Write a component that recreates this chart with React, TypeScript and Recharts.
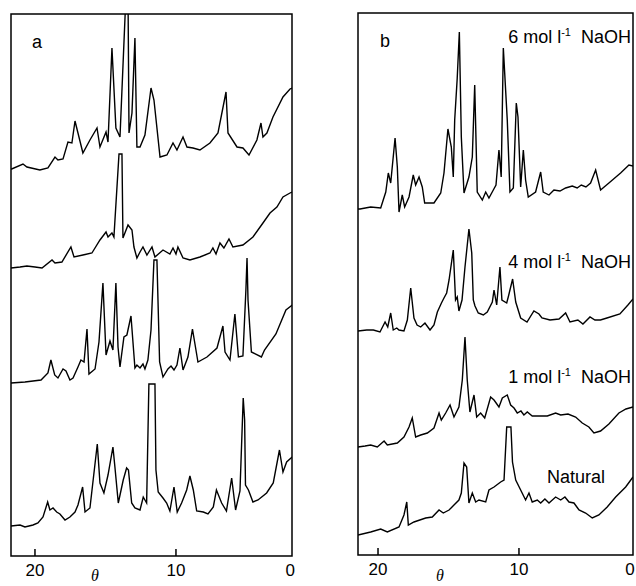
import { LineChart, Line, XAxis, YAxis, ReferenceArea } from 'recharts';

type Pt = [number, number];

// panel a, top to bottom (theta, intensity in arbitrary units incl. stacking offset)
const aTrace1: Pt[] = [
  [21.7, 387], [21.65, 387], [20.85, 392], [20.57, 389], [19.65, 386], [19.08, 388], [18.58, 399], [18.37, 396],
  [18.01, 397], [17.66, 414], [17.38, 413], [17.16, 435], [16.95, 423], [16.6, 403], [16.1, 416], [15.6, 428],
  [15.39, 409], [14.96, 424], [14.82, 414], [14.54, 508], [14.26, 428], [13.97, 419], [13.55, 560], [13.4, 560],
  [13.33, 423], [13.12, 443], [12.91, 518], [12.77, 409], [12.55, 409], [12.2, 421], [11.77, 468], [11.56, 456],
  [11.13, 399], [10.64, 401], [10.21, 413], [9.93, 406], [9.5, 419], [9.22, 409], [8.79, 408], [8.3, 406],
  [7.59, 413], [7.02, 423], [6.45, 464], [6.31, 423], [5.67, 409], [5.25, 408], [4.82, 401], [4.26, 416],
  [3.97, 433], [3.83, 419], [3.55, 423], [3.12, 439], [2.41, 459], [1.91, 467], [1.77, 468],
];
const aTrace2: Pt[] = [
  [21.7, 288], [21.06, 289], [20.57, 290], [20.0, 289], [19.5, 288], [18.79, 296], [18.58, 293], [18.09, 294],
  [17.45, 309], [17.23, 299], [16.6, 301], [15.96, 303], [15.39, 316], [14.96, 324], [14.82, 319], [14.54, 323],
  [14.4, 319], [14.04, 402], [13.83, 402], [13.76, 318], [13.4, 331], [13.12, 326], [12.98, 309], [12.77, 298],
  [12.55, 304], [12.34, 309], [12.06, 301], [11.7, 309], [11.49, 299], [10.92, 306], [10.43, 302], [10.21, 308],
  [10.0, 302], [9.86, 309], [9.5, 298], [9.01, 296], [8.3, 299], [7.59, 303], [7.38, 308], [7.16, 302],
  [6.88, 313], [6.6, 308], [6.24, 317], [5.96, 309], [5.25, 311], [4.54, 319], [3.83, 333], [3.33, 343],
  [2.84, 349], [2.41, 359], [1.91, 363], [1.77, 364],
];
const aTrace3: Pt[] = [
  [21.7, 173], [20.71, 174], [19.57, 176], [19.08, 183], [18.87, 196], [18.6, 181], [18.37, 178], [18.01, 187],
  [17.8, 185], [17.52, 176], [17.3, 178], [16.95, 189], [16.74, 196], [16.52, 194], [16.31, 227], [16.17, 182],
  [15.74, 187], [15.46, 214], [15.18, 273], [14.96, 201], [14.68, 215], [14.47, 206], [14.26, 273], [14.11, 209],
  [13.97, 189], [13.69, 219], [13.48, 221], [13.19, 240], [12.91, 188], [12.77, 191], [12.55, 188], [12.34, 192],
  [12.2, 187], [11.99, 196], [11.77, 226], [11.56, 296], [11.35, 296], [11.16, 194], [10.92, 179], [10.57, 187],
  [10.35, 190], [10.14, 186], [9.93, 191], [9.72, 208], [9.5, 186], [9.15, 199], [8.83, 227], [8.44, 194],
  [7.8, 199], [7.09, 208], [6.67, 230], [6.52, 204], [6.17, 196], [5.82, 242], [5.57, 199], [5.25, 200],
  [5.04, 266], [4.96, 298], [4.89, 256], [4.65, 204], [3.94, 199], [3.72, 206], [2.91, 222], [2.2, 246],
  [1.84, 250], [1.77, 251],
];
const aTrace4: Pt[] = [
  [21.7, 30], [21.06, 31], [20.71, 29], [20.14, 31], [19.79, 33], [19.43, 39], [19.1, 54], [18.94, 46],
  [18.72, 48], [18.46, 44], [18.23, 42], [17.87, 36], [17.52, 39], [17.16, 44], [16.95, 51], [16.62, 69],
  [16.45, 44], [16.1, 48], [15.58, 112], [15.39, 73], [15.11, 63], [14.82, 81], [14.47, 109], [14.33, 89],
  [14.09, 53], [13.74, 76], [13.5, 88], [13.37, 86], [13.14, 53], [12.91, 48], [12.55, 46], [12.32, 59],
  [12.08, 53], [11.92, 172], [11.49, 172], [11.42, 86], [11.26, 64], [10.92, 58], [10.66, 53], [10.43, 45],
  [10.14, 69], [9.91, 44], [9.6, 53], [9.24, 66], [9.01, 80], [8.77, 66], [8.53, 45], [8.06, 44],
  [7.73, 42], [7.35, 49], [7.13, 66], [6.76, 53], [6.42, 45], [6.05, 78], [5.77, 46], [5.46, 65],
  [5.23, 158], [5.13, 136], [5.07, 71], [4.86, 66], [4.54, 54], [4.18, 56], [3.57, 63], [3.1, 73],
  [2.66, 106], [2.41, 84], [2.15, 94], [1.84, 98], [1.77, 99],
];

// panel b, top to bottom
const b6mol: Pt[] = [
  [21.42, 346], [21.28, 346], [20.52, 348], [19.81, 347], [19.45, 363], [19.27, 382], [19.1, 372], [18.79, 417],
  [18.63, 388], [18.51, 343], [18.28, 360], [18.11, 348], [17.8, 358], [17.5, 380], [17.33, 370], [17.09, 378],
  [16.86, 368], [16.69, 352], [16.03, 352], [15.55, 362], [15.32, 382], [15.04, 426], [14.8, 408], [14.66, 378],
  [14.56, 435], [14.38, 477], [14.23, 523], [14.09, 418], [13.9, 362], [13.55, 378], [13.31, 398], [13.14, 470],
  [12.96, 363], [12.6, 355], [12.36, 363], [12.13, 357], [11.82, 365], [11.63, 370], [11.42, 405], [11.26, 378],
  [11.11, 507], [10.83, 435], [10.64, 363], [10.4, 367], [10.19, 452], [10.07, 438], [9.88, 368], [9.69, 405],
  [9.53, 375], [9.34, 358], [8.82, 363], [8.46, 383], [8.28, 363], [7.87, 360], [7.52, 365], [7.09, 364],
  [6.69, 367], [6.22, 369], [5.87, 367], [5.58, 370], [5.25, 368], [4.92, 372], [4.56, 385], [4.21, 365],
  [3.62, 372], [2.79, 382], [2.2, 390], [1.91, 389],
];
const b4mol: Pt[] = [
  [21.42, 224], [20.8, 225], [20.33, 225], [19.86, 223], [19.5, 233], [19.31, 228], [19.1, 242], [18.92, 225],
  [18.67, 227], [18.51, 225], [18.16, 224], [17.92, 235], [17.68, 267], [17.45, 237], [17.23, 230], [16.97, 228],
  [16.67, 232], [16.31, 225], [16.03, 230], [15.79, 243], [15.5, 252], [15.32, 257], [15.13, 262], [14.96, 275],
  [14.66, 305], [14.5, 255], [14.38, 258], [14.26, 244], [14.04, 255], [13.83, 288], [13.55, 326], [13.35, 302],
  [13.24, 255], [13.12, 249], [12.89, 242], [12.53, 240], [12.25, 243], [11.89, 253], [11.77, 265], [11.58, 250],
  [11.35, 288], [11.21, 255], [10.87, 252], [10.76, 258], [10.45, 276], [10.23, 253], [9.88, 237], [9.43, 233],
  [8.94, 244], [8.58, 241], [8.37, 237], [7.8, 235], [7.16, 236], [6.69, 242], [6.38, 233], [5.82, 235],
  [5.46, 231], [4.96, 238], [4.61, 235], [4.22, 235], [3.76, 237], [2.84, 241], [2.27, 250], [1.91, 256],
];
const b1mol: Pt[] = [
  [21.42, 108], [20.92, 109], [20.52, 110], [20.05, 108], [19.57, 114], [19.34, 110], [18.63, 112], [18.16, 118],
  [17.8, 128], [17.57, 137], [17.33, 118], [16.97, 120], [16.5, 122], [16.03, 127], [15.67, 142], [15.51, 135],
  [15.2, 142], [14.89, 150], [14.61, 138], [14.26, 148], [14.02, 175], [13.83, 218], [13.67, 175], [13.48, 143],
  [13.19, 160], [13.0, 138], [12.72, 142], [12.43, 137], [12.01, 158], [11.77, 155], [11.42, 148], [11.18, 157],
  [10.83, 160], [10.59, 150], [10.35, 147], [10.12, 142], [9.86, 144], [9.65, 140], [9.41, 143], [9.06, 139],
  [8.51, 139], [7.99, 139], [7.4, 142], [7.04, 140], [6.52, 141], [5.98, 138], [5.51, 132], [5.04, 128],
  [4.68, 122], [4.21, 124], [3.62, 131], [2.91, 142], [2.41, 146], [1.91, 148],
];
const bNatural: Pt[] = [
  [21.42, 20], [20.52, 23], [19.81, 26], [19.34, 23], [18.51, 28], [18.16, 40], [17.96, 53], [17.85, 30],
  [17.45, 33], [16.62, 37], [16.15, 38], [15.67, 45], [15.37, 42], [14.96, 45], [14.61, 50], [14.26, 55],
  [14.09, 62], [13.9, 92], [13.71, 88], [13.55, 52], [13.31, 62], [13.07, 53], [12.84, 55], [12.36, 53],
  [12.13, 65], [11.77, 68], [11.3, 73], [11.06, 75], [10.87, 128], [10.57, 128], [10.46, 93], [10.23, 75],
  [9.88, 65], [9.53, 55], [9.29, 62], [9.06, 53], [8.7, 55], [8.46, 52], [8.16, 56], [7.87, 52],
  [7.4, 58], [7.04, 55], [6.74, 58], [6.45, 53], [6.1, 52], [5.74, 45], [5.27, 42], [4.8, 37],
  [4.33, 40], [3.74, 48], [3.14, 58], [2.43, 68], [1.91, 78],
];

const xTicks = [20, 10, 1.9];
const tickText = (v: number) => (v < 5 ? '0' : String(v));

const FONT = '"Liberation Sans", Arial, Helvetica, sans-serif';
const SERIF = '"Liberation Serif", "Times New Roman", serif';

function InTick(props: any) {
  const { x, y, payload, maxX } = props;
  const edge = payload.value < 5;
  const tx = edge ? Math.min(x, maxX) : x;
  return (
    <g>
      {!edge && <line x1={x} x2={x} y1={y} y2={y - 7} stroke="#000" strokeWidth={1.5} />}
      <text x={tx} y={y + 20} textAnchor="middle" fontSize={17} fontFamily={FONT} fill="#000">
        {tickText(payload.value)}
      </text>
    </g>
  );
}

const toRows = (pts: Pt[]) => pts.map(([theta, y]) => ({ theta, y }));

function Panel({ traces, left, width, margin, xDomain, yMax, axisH, maxX }: any) {
  return (
    <div style={{ position: 'absolute', left, top: 0 }}>
      <LineChart width={width} height={586} margin={margin}>
        <XAxis
          dataKey="theta"
          type="number"
          domain={xDomain}
          reversed
          allowDataOverflow
          ticks={xTicks}
          tick={<InTick maxX={maxX} />}
          tickLine={false}
          axisLine={false}
          tickSize={0}
          tickMargin={0}
          height={axisH}
          interval={0}
        />
        <YAxis type="number" domain={[0, yMax]} allowDataOverflow hide />
        {traces.map((t: Pt[], i: number) => (
          <Line
            key={i}
            data={toRows(t)}
            dataKey="y"
            type="linear"
            stroke="#000"
            strokeWidth={1.4}
            dot={false}
            activeDot={false}
            isAnimationActive={false}
          />
        ))}
        <ReferenceArea
          x1={xDomain[0]}
          x2={xDomain[1]}
          y1={0}
          y2={yMax}
          fill="none"
          fillOpacity={0}
          stroke="#000"
          strokeWidth={1.5}
          ifOverflow="visible"
        />
      </LineChart>
    </div>
  );
}

function NaohLabel({ x, y, n }: { x: number; y: number; n: string }) {
  return (
    <text x={x} y={y} textAnchor="end" fontSize={18} fontFamily={FONT} fill="#000" style={{ whiteSpace: 'pre' }}>
      {`${n} mol l`}
      <tspan dy={-7} fontSize={11}>-1</tspan>
      <tspan dy={7}>{'  NaOH'}</tspan>
    </text>
  );
}

export default function App() {
  return (
    <div style={{ position: 'absolute', left: 0, top: 0, width: 636, height: 586, background: '#fff', overflow: 'hidden' }}>
      <Panel
        traces={[aTrace1, aTrace2, aTrace3, aTrace4]}
        left={0}
        width={310}
        margin={{ top: 14, right: 18, bottom: 0, left: 11 }}
        xDomain={[1.77, 21.7]}
        yMax={542}
        axisH={30}
        maxX={300}
      />
      <Panel
        traces={[b6mol, b4mol, b1mol, bNatural]}
        left={340}
        width={296}
        margin={{ top: 13, right: 3, bottom: 0, left: 18 }}
        xDomain={[1.91, 21.42]}
        yMax={542}
        axisH={31}
        maxX={290}
      />
      <svg width={636} height={586} style={{ position: 'absolute', left: 0, top: 0, pointerEvents: 'none' }}>
        <text x={32} y={48} fontSize={18} fontFamily={FONT}>a</text>
        <text x={380} y={47} fontSize={18} fontFamily={FONT}>b</text>
        <NaohLabel x={631} y={43} n="6" />
        <NaohLabel x={631} y={268} n="4" />
        <NaohLabel x={631} y={383} n="1" />
        <text x={547} y={483} fontSize={18} fontFamily={FONT}>Natural</text>
        <text x={95} y={581} textAnchor="middle" fontSize={16} fontStyle="italic" fontFamily={SERIF}>θ</text>
        <text x={440} y={581} textAnchor="middle" fontSize={16} fontStyle="italic" fontFamily={SERIF}>θ</text>
      </svg>
    </div>
  );
}
